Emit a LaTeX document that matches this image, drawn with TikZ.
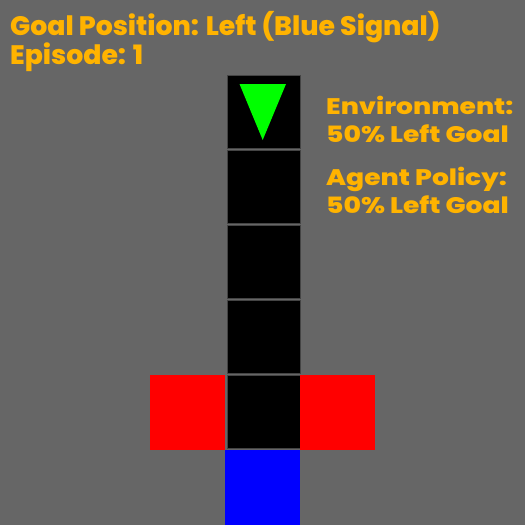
\documentclass[tikz,border=0pt]{standalone}
\usepackage{fontspec}
\setmainfont{Poppins}[BoldFont={Poppins ExtraBold}]
\newfontfamily\infofont{Poppins}[BoldFont={Poppins ExtraBold},BoldFeatures={FakeStretch=1.18}]
\definecolor{bg}{HTML}{666666}
\definecolor{txt}{HTML}{FFB300}
\definecolor{edge}{HTML}{444444}
\definecolor{agent}{HTML}{00FF00}
\begin{document}
\begin{tikzpicture}[x=1pt,y=-1pt,
  cell/.style={fill=black,draw=edge,line width=1pt,minimum width=73pt,minimum height=73pt,inner sep=0pt,outer sep=0pt},
  tile/.style={minimum width=75pt,minimum height=75pt,inner sep=0pt,outer sep=0pt},
  title/.style={text=txt,font=\bfseries\fontsize{26.7}{30}\selectfont,anchor=base west,inner sep=0pt},
  info/.style={text=txt,font=\infofont\bfseries\fontsize{22.5}{26}\selectfont,anchor=base west,inner sep=0pt}]
\fill[bg] (0,0) rectangle (525,525);
\useasboundingbox (0,0) rectangle (525,525);
\foreach \i in {0,...,4} {
  \node[cell] (c\i) at (263.5,{111.5+75*\i}) {};
}
\node[tile,fill=red] (rl) at (187.5,412.5) {};
\node[tile,fill=red] (rr) at (337.5,412.5) {};
\node[tile,fill=blue] (bl) at (262.5,487.5) {};
\fill[agent] (239.5,84) -- (286,84) -- (262.7,140) -- cycle;
\node[title] (t1) at (10,35) {Goal Position: Left (Blue Signal)};
\node[title] (t2) at (10,64) {Episode: 1};
\node[info] (e1) at (326,114) {Environment:};
\node[info] (e2) at (326,142) {50\% Left Goal};
\node[info] (a1) at (326,185) {Agent Policy:};
\node[info] (a2) at (326,213) {50\% Left Goal};
\end{tikzpicture}
\end{document}
